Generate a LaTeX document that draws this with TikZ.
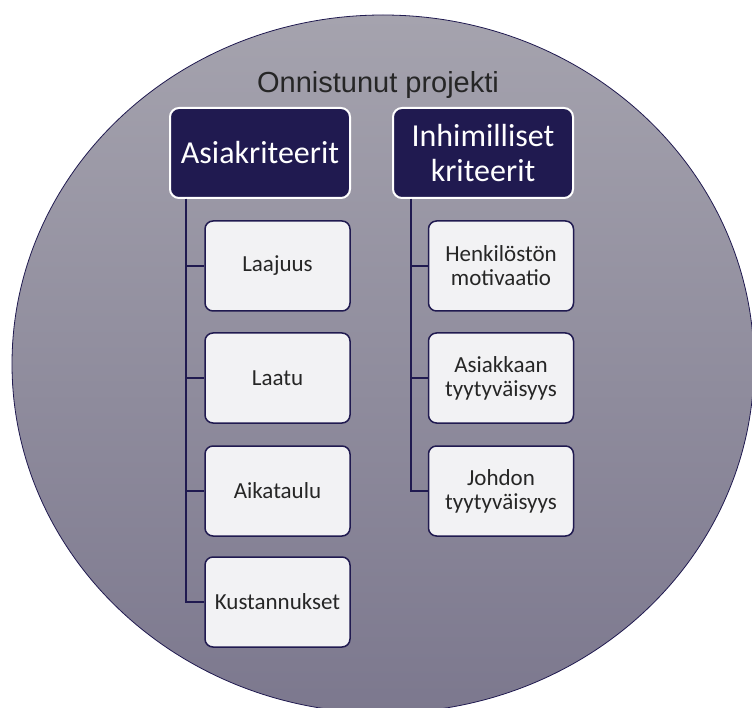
\documentclass[tikz,border=0pt]{standalone}
\usepackage{fontspec}
\setmainfont{Carlito}
\newfontfamily\titlefont{Liberation Sans}
\definecolor{navy}{HTML}{201A50}
\definecolor{boxgray}{HTML}{F2F2F4}
\definecolor{textgray}{HTML}{262626}
\definecolor{discTop}{HTML}{A5A3AE}
\definecolor{discBot}{HTML}{7C788E}
\tikzset{
  head/.style={draw=white, line width=2pt, fill=navy, rounded corners=9pt,
    text=white, minimum width=180pt, minimum height=90pt, inner sep=0pt,
    align=center, font=\fontsize{32}{35}\selectfont},
  item/.style={draw=navy, line width=1.5pt, fill=boxgray, rounded corners=8pt,
    text=textgray, minimum width=145pt, minimum height=90pt, inner sep=0pt,
    align=center, font=\fontsize{23}{24}\selectfont},
  branch/.style={draw=navy, line width=1.5pt},
}
\begin{document}
\begin{tikzpicture}[x=1pt,y=-1pt]
  \useasboundingbox (0,0) rectangle (752,708);
  \clip (0,0) rectangle (752,708);
  % background disc
  \shade[top color=discTop, bottom color=discBot, draw=navy, line width=0.8pt]
    (383,364) ellipse [x radius=371, y radius=349];
  \node[anchor=base, text=textgray, font=\titlefont\fontsize{29}{30}\selectfont]
    (title) at (378,93) {Onnistunut projekti};
  % heads
  \node[head] (asia) at (260,153) {Asiakriteerit};
  \node[head] (inhim) at (483,153) {Inhimilliset\\kriteerit};
  % left column
  \node[item] (laajuus) at (277.5,266) {Laajuus};
  \node[item] (laatu) at (277.5,378) {Laatu};
  \node[item] (aikataulu) at (277.5,491) {Aikataulu};
  \node[item] (kustannukset) at (277.5,602) {Kustannukset};
  % right column
  \node[item] (henkilosto) at (501,266) {Henkilöstön\\motivaatio};
  \node[item] (asiakas) at (501,378) {Asiakkaan\\tyytyväisyys};
  \node[item] (johto) at (501,491) {Johdon\\tyytyväisyys};
  % branches
  \foreach \c in {laajuus,laatu,aikataulu,kustannukset}
    \draw[branch] ([xshift=17pt]asia.south west) |- (\c.west);
  \foreach \c in {henkilosto,asiakas,johto}
    \draw[branch] ([xshift=19pt]inhim.south west) |- (\c.west);
\end{tikzpicture}
\end{document}
